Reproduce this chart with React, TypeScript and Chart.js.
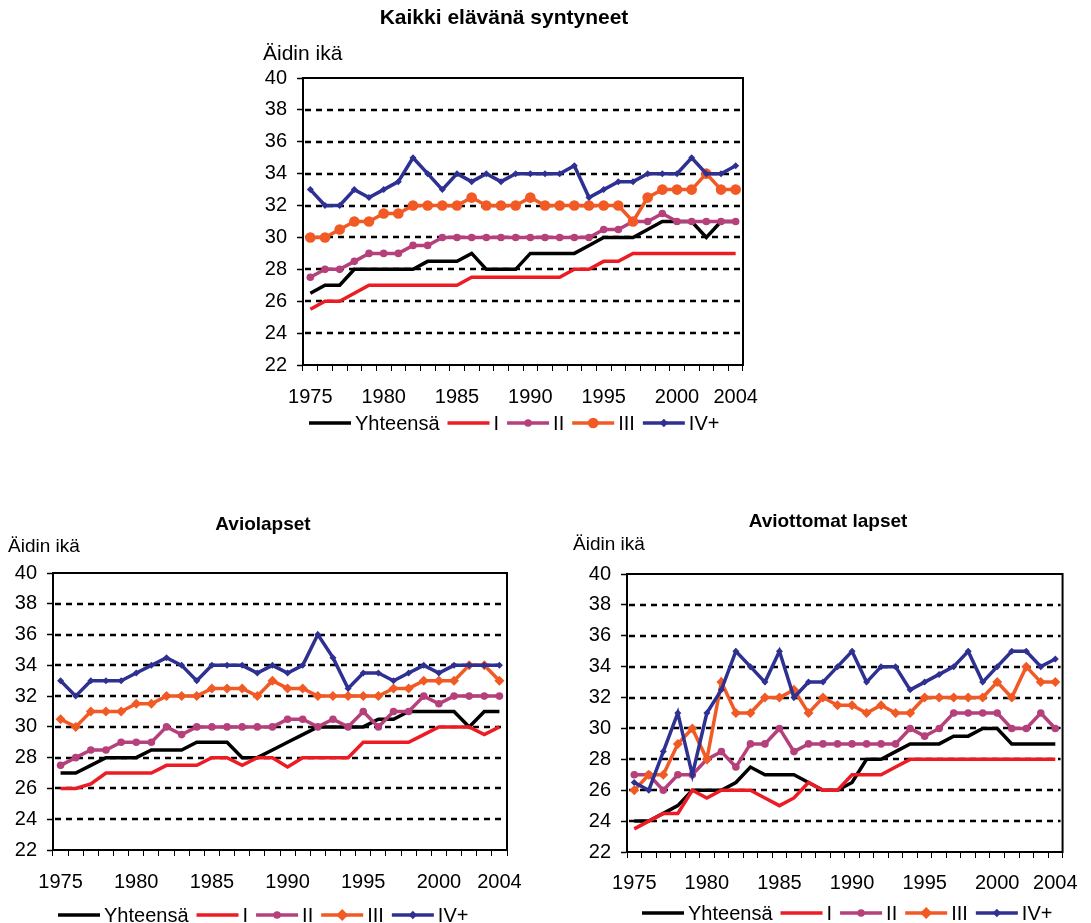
import React, { useEffect, useRef } from 'react';
import { Chart, registerables } from 'chart.js';

Chart.register(...registerables);
Chart.defaults.font.family = "'Liberation Sans', Arial, sans-serif";
Chart.defaults.color = '#000';

// ---------- DATA ----------
const years = ['1975','1976','1977','1978','1979','1980','1981','1982','1983','1984','1985','1986','1987','1988','1989','1990','1991','1992','1993','1994','1995','1996','1997','1998','1999','2000','2001','2002','2003','2004'];
const shownYearLabels = ['1975','1980','1985','1990','1995','2000','2004'];
const seriesNames = ['Yhteensä', 'I', 'II', 'III', 'IV+'];
const seriesColors = ['#000000', '#ed1c24', '#b5407c', '#f15a24', '#2e3192'];
const yMin = 22;
const yMax = 40;
const yStep = 2;

// Kaikki elävänä syntyneet
const kaikkiYht = [26.5,27,27,28,28,28,28,28,28.5,28.5,28.5,29,28,28,28,29,29,29,29,29.5,30,30,30,30.5,31,31,31,30,31,31];
const kaikkiI = [25.5,26,26,26.5,27,27,27,27,27,27,27,27.5,27.5,27.5,27.5,27.5,27.5,27.5,28,28,28.5,28.5,29,29,29,29,29,29,29,29];
const kaikkiII = [27.5,28,28,28.5,29,29,29,29.5,29.5,30,30,30,30,30,30,30,30,30,30,30,30.5,30.5,31,31,31.5,31,31,31,31,31];
const kaikkiIII = [30,30,30.5,31,31,31.5,31.5,32,32,32,32,32.5,32,32,32,32.5,32,32,32,32,32,32,31,32.5,33,33,33,34,33,33];
const kaikkiIV = [33,32,32,33,32.5,33,33.5,35,34,33,34,33.5,34,33.5,34,34,34,34,34.5,32.5,33,33.5,33.5,34,34,34,35,34,34,34.5];

// Aviolapset
const avioYht = [27,27,27.5,28,28,28,28.5,28.5,28.5,29,29,29,28,28,28.5,29,29.5,30,30,30,30,30.5,30.5,31,31,31,31,30,31,31];
const avioI = [26,26,26.3,27,27,27,27,27.5,27.5,27.5,28,28,27.5,28,28,27.4,28,28,28,28,29,29,29,29,29.5,30,30,30,29.5,30];
const avioII = [27.5,28,28.5,28.5,29,29,29,30,29.5,30,30,30,30,30,30,30.5,30.5,30,30.5,30,31,30,31,31,32,31.5,32,32,32,32];
const avioIII = [30.5,30,31,31,31,31.5,31.5,32,32,32,32.5,32.5,32.5,32,33,32.5,32.5,32,32,32,32,32,32.5,32.5,33,33,33,34,34,33];
const avioIV = [33,32,33,33,33,33.5,34,34.5,34,33,34,34,34,33.5,34,33.5,34,36,34.5,32.5,33.5,33.5,33,33.5,34,33.5,34,34,34,34];

// Aviottomat lapset
const aviotonYht = [24,24,24.5,25,26,26,26,26.5,27.5,27,27,27,26.5,26,26,26.5,28,28,28.5,29,29,29,29.5,29.5,30,30,29,29,29,29];
const aviotonI = [23.5,24,24.5,24.5,26,25.5,26,26,26,25.5,25,25.5,26.5,26,26,27,27,27,27.5,28,28,28,28,28,28,28,28,28,28,28];
const aviotonII = [27,27,26,27,27,28,28.5,27.5,29,29,30,28.5,29,29,29,29,29,29,29,30,29.5,30,31,31,31,31,30,30,31,30];
const aviotonIII = [26,27,27,29,30,28,33,31,31,32,32,32.5,31,32,31.5,31.5,31,31.5,31,31,32,32,32,32,32,33,32,34,33,33];
const aviotonIV = [26.5,26,28.5,31,27,31,32.5,35,34,33,35,32,33,33,34,35,33,34,34,32.5,33,33.5,34,35,33,34,35,35,34,34.5];

// ---------- STYLE / LAYOUT ----------
type Marker = { style: string | false; r: number };
const markersMain: Marker[] = [
  { style: false, r: 0 },
  { style: false, r: 0 },
  { style: 'circle', r: 3.8 },
  { style: 'circle', r: 5.3 },
  { style: 'rectRot', r: 3.5 },
];
const markersSub: Marker[] = [
  { style: false, r: 0 },
  { style: false, r: 0 },
  { style: 'circle', r: 3.8 },
  { style: 'rectRot', r: 5 },
  { style: 'rectRot', r: 3.5 },
];

interface ChartDef {
  title: string;
  titleSize: number;
  labelSize: number;
  series: number[][];
  markers: Marker[];
  left: number; top: number; w: number; h: number;
  yW: number; xH: number;
  pad: { top: number; right: number; bottom: number };
  titleX: number; titleY: number;
  yLabelX: number; yLabelY: number;
  legendX: number; legendY: number;
  xTickPad: number;
}

const defs: ChartDef[] = [
  {
    title: 'Kaikki elävänä syntyneet', titleSize: 21, labelSize: 21,
    series: [kaikkiYht, kaikkiI, kaikkiII, kaikkiIII, kaikkiIV], markers: markersMain,
    left: 240, top: 0, w: 540, h: 450, yW: 63, xH: 45,
    pad: { top: 78, right: 37, bottom: 40 },
    titleX: 504, titleY: 18, yLabelX: 263, yLabelY: 54, legendX: 309, legendY: 423, xTickPad: 14,
  },
  {
    title: 'Aviolapset', titleSize: 19, labelSize: 19,
    series: [avioYht, avioI, avioII, avioIII, avioIV], markers: markersSub,
    left: 0, top: 500, w: 545, h: 423, yW: 53, xH: 45,
    pad: { top: 73, right: 38, bottom: 28 },
    titleX: 263, titleY: 525, yLabelX: 8, yLabelY: 547, legendX: 58, legendY: 915, xTickPad: 14,
  },
  {
    title: 'Aviottomat lapset', titleSize: 19, labelSize: 19,
    series: [aviotonYht, aviotonI, aviotonII, aviotonIII, aviotonIV], markers: markersSub,
    left: 560, top: 500, w: 531, h: 423, yW: 67, xH: 45,
    pad: { top: 74, right: 27, bottom: 26 },
    titleX: 828, titleY: 522, yLabelX: 573, yLabelY: 545, legendX: 642, legendY: 913, xTickPad: 13,
  },
];

const FONT = "'Liberation Sans', Arial, sans-serif";

function drawMarker(ctx: CanvasRenderingContext2D, m: Marker, x: number, y: number, color: string) {
  if (!m.style) return;
  ctx.fillStyle = color;
  ctx.beginPath();
  if (m.style === 'circle') {
    ctx.arc(x, y, m.r, 0, Math.PI * 2);
  } else {
    const r = m.r * 1.2;
    ctx.moveTo(x, y - r); ctx.lineTo(x + r, y); ctx.lineTo(x, y + r); ctx.lineTo(x - r, y); ctx.closePath();
  }
  ctx.fill();
}

const decoPlugin = {
  id: 'deco',
  beforeDatasetsDraw(chart: any) {
    const { ctx, chartArea: a, scales } = chart;
    const ys = scales.y;
    ctx.save();
    ctx.strokeStyle = '#000';
    ctx.lineWidth = 2.5;
    ctx.setLineDash([6, 5]);
    ys.ticks.forEach((t: any) => {
      if (t.value > ys.min && t.value < ys.max) {
        const y = Math.round(ys.getPixelForValue(t.value));
        ctx.beginPath();
        ctx.moveTo(a.left + 2, y);
        ctx.lineTo(a.right - 2, y);
        ctx.stroke();
      }
    });
    ctx.setLineDash([]);
    ctx.lineWidth = 2;
    ctx.strokeRect(a.left, a.top, a.right - a.left, a.bottom - a.top);
    ctx.restore();
  },
  afterDraw(chart: any, _a: any, opts: any) {
    const d: ChartDef = opts.def;
    const ctx: CanvasRenderingContext2D = chart.ctx;
    ctx.save();
    ctx.fillStyle = '#000';
    ctx.textBaseline = 'middle';
    // title
    ctx.font = `bold ${d.titleSize}px ${FONT}`;
    ctx.textAlign = 'center';
    ctx.fillText(d.title, d.titleX - d.left, d.titleY - d.top);
    // y label
    ctx.font = `${d.labelSize}px ${FONT}`;
    ctx.textAlign = 'left';
    ctx.fillText('Äidin ikä', d.yLabelX - d.left, d.yLabelY - d.top);
    // legend
    ctx.font = `20px ${FONT}`;
    let x = d.legendX - d.left;
    const y = d.legendY - d.top;
    seriesNames.forEach((name, i) => {
      const c = seriesColors[i];
      ctx.strokeStyle = c;
      ctx.lineWidth = 3.5;
      ctx.beginPath();
      ctx.moveTo(x, y);
      ctx.lineTo(x + 42, y);
      ctx.stroke();
      drawMarker(ctx, d.markers[i], x + 21, y, c);
      ctx.fillStyle = '#000';
      ctx.fillText(name, x + 46, y + 1);
      x += 46 + ctx.measureText(name).width + 8;
    });
    ctx.restore();
  },
};

function LineChart({ d }: { d: ChartDef }) {
  const ref = useRef<HTMLCanvasElement>(null);
  useEffect(() => {
    const chart = new Chart(ref.current as HTMLCanvasElement, {
      type: 'line',
      data: {
        labels: years,
        datasets: d.series.map((vals, i) => ({
          label: seriesNames[i],
          data: vals,
          borderColor: seriesColors[i],
          backgroundColor: seriesColors[i],
          borderWidth: 3.5,
          pointStyle: (d.markers[i].style || 'circle') as any,
          pointRadius: d.markers[i].style ? d.markers[i].r : 0,
          pointHoverRadius: d.markers[i].style ? d.markers[i].r : 0,
          pointBorderWidth: 0,
          pointBackgroundColor: seriesColors[i],
          pointBorderColor: seriesColors[i],
          tension: 0,
          fill: false,
          order: 4 - i,
        })),
      },
      options: {
        responsive: false,
        animation: false,
        devicePixelRatio: 1,
        layout: { padding: { left: 0, top: d.pad.top, right: d.pad.right, bottom: d.pad.bottom } },
        plugins: {
          legend: { display: false },
          title: { display: false },
          tooltip: { enabled: false },
          deco: { def: d },
        } as any,
        scales: {
          x: {
            type: 'category',
            offset: true,
            grid: { offset: true, drawOnChartArea: false, drawTicks: true, tickLength: 6, tickColor: '#000', tickWidth: 1 },
            border: { display: true, color: '#000', width: 2 },
            ticks: {
              autoSkip: false,
              maxRotation: 0,
              minRotation: 0,
              padding: d.xTickPad,
              font: { size: 20, family: FONT },
              color: '#000',
              callback: function (this: any, _v: any, idx: number) {
                const lab = years[idx];
                return shownYearLabels.includes(lab) ? lab : '';
              },
            },
            afterFit: (s: any) => { s.height = d.xH; },
          },
          y: {
            min: yMin,
            max: yMax,
            grid: { drawOnChartArea: false, drawTicks: true, tickLength: 6, tickColor: '#000', tickWidth: 1.5 },
            border: { display: true, color: '#000', width: 2 },
            ticks: { stepSize: yStep, padding: 10, font: { size: 20, family: FONT }, color: '#000' },
            afterFit: (s: any) => { s.width = d.yW; },
          },
        },
      },
      plugins: [decoPlugin as any],
    });
    return () => chart.destroy();
  }, []);
  return (
    <canvas
      ref={ref}
      width={d.w}
      height={d.h}
      style={{ position: 'absolute', left: d.left, top: d.top, width: d.w, height: d.h }}
    />
  );
}

export default function App() {
  return (
    <div style={{ position: 'fixed', left: 0, top: 0, width: 1091, height: 923, background: '#fff', overflow: 'hidden' }}>
      {defs.map((d, i) => (
        <LineChart key={i} d={d} />
      ))}
    </div>
  );
}
